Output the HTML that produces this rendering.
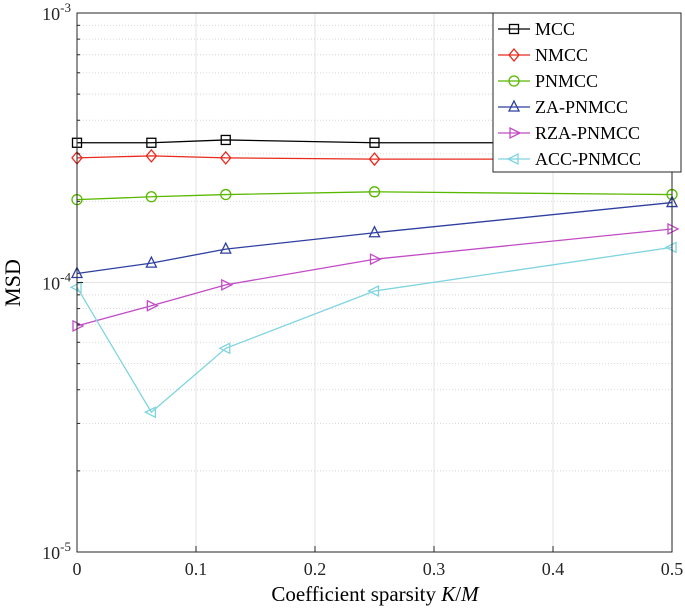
<!DOCTYPE html>
<html><head><meta charset="utf-8"><style>
body{margin:0;background:#fff;}
svg{font-family:"Liberation Serif",serif;}
</style></head><body>
<svg width="685" height="608" xmlns="http://www.w3.org/2000/svg">
<g id="grid"></g>
<g id="series"></g>
<rect x="77" y="13" width="595" height="539" fill="none" stroke="#262626" stroke-width="1"/>
<g id="ticks"></g>
<text x="20" y="283" font-size="22" text-anchor="middle" transform="rotate(-90 20 283)">MSD</text>
<text x="375" y="601" font-size="21" text-anchor="middle">Coefficient sparsity <tspan font-style="italic">K</tspan>/<tspan font-style="italic">M</tspan></text>
<g id="legend"></g>
</svg>
<script>
const xs=[0,0.0625,0.125,0.25,0.5];
const seriesNames=["MCC","NMCC","PNMCC","ZA-PNMCC","RZA-PNMCC","ACC-PNMCC"];
const mcc=[3.3e-4,3.3e-4,3.38e-4,3.3e-4,3.3e-4];
const nmcc=[2.9e-4,2.95e-4,2.9e-4,2.87e-4,2.87e-4];
const pnmcc=[2.03e-4,2.08e-4,2.12e-4,2.17e-4,2.12e-4];
const zapnmcc=[1.08e-4,1.18e-4,1.33e-4,1.53e-4,1.98e-4];
const rzapnmcc=[6.9e-5,8.2e-5,9.8e-5,1.22e-4,1.58e-4];
const accpnmcc=[9.6e-5,3.3e-5,5.7e-5,9.3e-5,1.35e-4];
const xTicks=[0,0.1,0.2,0.3,0.4,0.5];
const yDecades=[-5,-4,-3];
const colors=["#000000","#e8291c","#58b800","#2e3fa0","#c24bc6","#7fd4e0"];
const markers=["square","diamond","circle","triangle-up","triangle-right","triangle-left"];
const data=[mcc,nmcc,pnmcc,zapnmcc,rzapnmcc,accpnmcc];
const X0=77,X1=672,Y0=552,Y1=13;
const sx=v=>X0+(v-0)/(0.5-0)*(X1-X0);
const sy=v=>Y0-(Math.log10(v)+5)/2*(Y0-Y1);
const NS="http://www.w3.org/2000/svg";
function mk(t,a,p){const e=document.createElementNS(NS,t);for(const k in a)e.setAttribute(k,a[k]);p.appendChild(e);return e;}
const grid=document.getElementById('grid'),ticks=document.getElementById('ticks'),ser=document.getElementById('series'),leg=document.getElementById('legend');
xTicks.forEach(t=>{const x=sx(t);
 const g=mk('line',{x1:x,x2:x,y1:Y1,y2:Y0,stroke:'#e3e3e3'},grid);
 
 
 mk('line',{x1:x,x2:x,y1:Y0,y2:Y0-6,stroke:'#262626'},ticks);
 const l=mk('text',{x:x,y:Y0+23,'font-size':18,'text-anchor':'middle',fill:'#262626'},ticks);l.textContent=String(t);
 
 
});
yDecades.forEach(d=>{const y=sy(Math.pow(10,d));
 mk('line',{x1:X0,x2:X1,y1:y,y2:y,stroke:'#e3e3e3'},grid);
 mk('line',{x1:X0,x2:X0+6,y1:y,y2:y,stroke:'#262626'},ticks);
 const l=mk('text',{x:X0-6,y:y+7,'font-size':18,'text-anchor':'end',fill:'#262626'},ticks);
 l.innerHTML='10<tspan dy="-8" font-size="13">'+d+'</tspan>';
 
 
 if(d<-3){for(let m=2;m<10;m++){const yy=sy(m*Math.pow(10,d));
  mk('line',{x1:X0,x2:X1,y1:yy,y2:yy,stroke:'#d8d8d8','stroke-dasharray':'1 2'},grid);
  mk('line',{x1:X0,x2:X0+3,y1:yy,y2:yy,stroke:'#262626'},ticks);}}
});
function marker(p,type,x,y,c){const r=5;
 const a={fill:'none',stroke:c,'stroke-width':1.3};
 if(type==='square')return mk('rect',Object.assign({x:x-r+0.5,y:y-r+0.5,width:2*r-1,height:2*r-1},a),p);
 if(type==='circle')return mk('circle',Object.assign({cx:x,cy:y,r:r},a),p);
 let pts;
 if(type==='diamond')pts=[[x,y-r-1],[x+r,y],[x,y+r+1],[x-r,y]];
 if(type==='triangle-up')pts=[[x,y-r-1],[x+r,y+r-1],[x-r,y+r-1]];
 if(type==='triangle-right')pts=[[x+r+1,y],[x-r+1,y-r],[x-r+1,y+r]];
 if(type==='triangle-left')pts=[[x-r-1,y],[x+r-1,y-r],[x+r-1,y+r]];
 return mk('polygon',Object.assign({points:pts.map(q=>q.join(',')).join(' ')},a),p);}
data.forEach((vals,i)=>{
 const g=mk('g',{},ser);
 
 
 mk('polyline',{points:vals.map((v,j)=>sx(xs[j])+','+sy(v)).join(' '),fill:'none',stroke:colors[i],'stroke-width':1.3},g);
 vals.forEach((v,j)=>{const m=marker(g,markers[i],sx(xs[j]),sy(v),colors[i]);
  
  });
});
mk('rect',{x:493,y:13,width:188,height:159,fill:'#fff',stroke:'#262626'},leg);
seriesNames.forEach((n,i)=>{const y=29+i*26;
 const g=mk('g',{},leg);
 
 
 mk('line',{x1:498,x2:530,y1:y,y2:y,stroke:colors[i],'stroke-width':1.3},g);
 marker(g,markers[i],514,y,colors[i]);
 const t=mk('text',{x:535,y:y+6,'font-size':18,fill:'#000'},g);t.textContent=n;
});
</script>
</body></html>
